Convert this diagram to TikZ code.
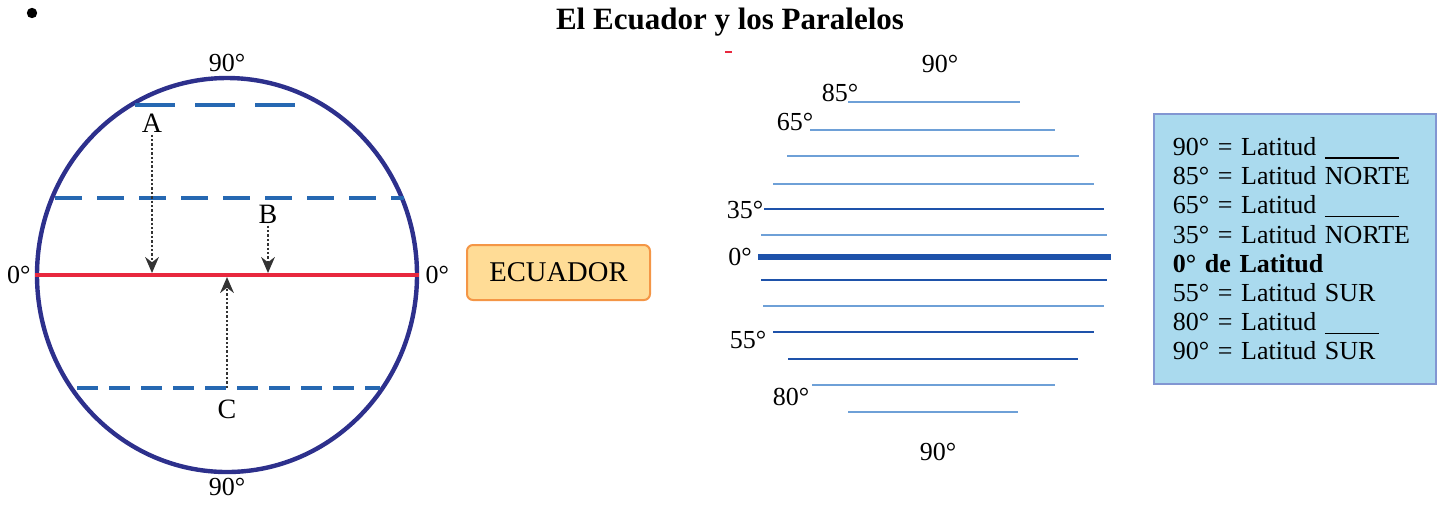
\documentclass[tikz,border=0pt]{standalone}
\usepackage{fontspec}
\setmainfont{Liberation Serif}
\usepackage{tikz}
\usetikzlibrary{arrows.meta,positioning,shapes.geometric}
\definecolor{globeNavy}{RGB}{45,48,140}
\definecolor{dashBlue}{RGB}{38,104,178}
\definecolor{equatorRed}{RGB}{232,40,62}
\definecolor{tagFill}{RGB}{255,220,150}
\definecolor{tagBorder}{RGB}{244,150,70}
\definecolor{keyFill}{RGB}{170,218,238}
\definecolor{keyBorder}{RGB}{130,150,210}
\definecolor{paraLight}{RGB}{110,160,215}
\definecolor{paraDark}{RGB}{30,82,170}
\newcommand\keyblank[1]{\rule[-1.5pt]{#1}{0.6pt}}

\begin{document}
\begin{tikzpicture}[
  x=0.5pt, y=-0.5pt,
  deg/.style={font=\fontsize{13}{15}\selectfont, inner sep=1pt},
  letter/.style={font=\fontsize{14}{16}\selectfont, inner sep=1pt},
  dotarrow/.style={-{Stealth[length=2.8mm, width=2.4mm]}, densely dotted, line width=1.2pt, black!80},
  lightPar/.style={paraLight, line width=1pt},
  darkPar/.style={paraDark, line width=1pt},
  eqPar/.style={paraDark, line width=2.8pt},
  legend/.style={draw=keyBorder, fill=keyFill, line width=0.8pt, text width=122pt, inner xsep=9.5pt,
    minimum height=135pt, align=left, font=\fontsize{13}{14.6}\selectfont}
]
  \useasboundingbox (0,0) rectangle (1443,505);

  % bullet and title
  \fill (32,13) circle (2.6pt);
  \node[font=\fontsize{15.5}{18}\selectfont\bfseries] (title) at (730,22) {El Ecuador y los Paralelos};
  \draw[equatorRed, line width=1pt] (725,52) -- (732,52);

  % globe
  \node[draw=globeNavy, line width=2.2pt, ellipse, minimum width=190pt, minimum height=197pt, inner sep=0pt] (globe) at (227,275) {};
  \draw[dashBlue, line width=1.8pt, dash pattern=on 20pt off 10pt] (135,105) -- (296,105);
  \draw[dashBlue, line width=1.8pt, dash pattern=on 13.5pt off 7.5pt] (55,198) -- (404,198);
  \draw[dashBlue, line width=1.8pt, dash pattern=on 10.5pt off 5.5pt] (77,388) -- (380,388);
  \draw[equatorRed, line width=2pt] (globe.west) -- (globe.east);

  \node[deg, above=1pt of globe.north] (topdeg) {90°};
  \node[deg, below=1pt of globe.south] (botdeg) {90°};
  \node[deg, left=1pt of globe.west] (westdeg) {0°};
  \node[deg, right=2pt of globe.east] (eastdeg) {0°};

  \node[letter] (A) at (152,123) {A};
  \node[letter] (B) at (268,214) {B};
  \node[letter] (C) at (227,409) {C};
  \coordinate (eqA) at (152,273);
  \coordinate (eqB) at (268,273);
  \coordinate (eqC) at (227,277);
  \coordinate (paraC) at (227,388);

  \draw[dotarrow] (A) -- (eqA);
  \draw[dotarrow] (B) -- (eqB);
  \draw[dotarrow] (paraC) -- (eqC);

  \node[draw=tagBorder, fill=tagFill, line width=1pt, rounded corners=3pt, minimum width=91.5pt, minimum height=27.5pt,
    font=\fontsize{14.3}{16}\selectfont] (ecuador) at (558.5,272.5) {ECUADOR};

  % parallels
  \foreach \yy/\xl/\xr/\sty in {102/848/1020/lightPar, 130/810/1055/lightPar, 156/787/1079/lightPar,
      184/773/1094/lightPar, 209/764/1104/darkPar, 235/761/1107/lightPar, 257/758/1111/eqPar,
      280/761/1107/darkPar, 306/763/1104/lightPar, 332/773/1094/darkPar, 359/788/1078/darkPar,
      385/812/1055/lightPar, 412/848/1018/lightPar}
    \draw[\sty] (\xl,\yy) -- (\xr,\yy);

  \node[deg] (n90) at (940,64) {90°};
  \node[deg] (n85) at (840,93) {85°};
  \node[deg] (n65) at (795,122) {65°};
  \node[deg] (n35) at (745,210) {35°};
  \node[deg] (n0) at (740,257) {0°};
  \node[deg] (s55) at (748,340) {55°};
  \node[deg] (s80) at (791,397) {80°};
  \node[deg] (s90) at (938,452) {90°};

  % legend
  \node[legend, anchor=north west] (key) at (1153,113) {
    90° = Latitud \keyblank{37pt}\\
    85° = Latitud NORTE\\
    65° = Latitud \keyblank{37pt}\\
    35° = Latitud NORTE\\
    \textbf{0° de Latitud}\\
    55° = Latitud SUR\\
    80° = Latitud \keyblank{27pt}\\
    90° = Latitud SUR};
\end{tikzpicture}
\end{document}
